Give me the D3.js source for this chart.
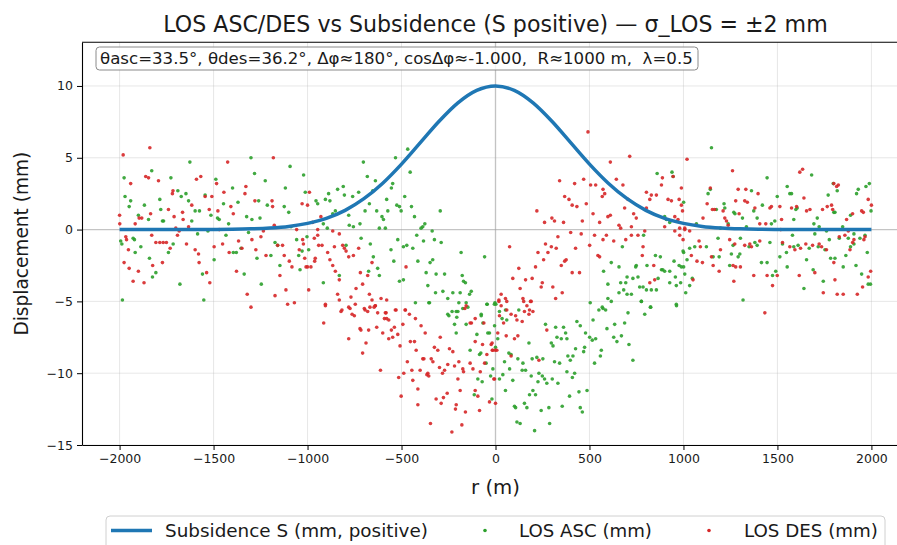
<!DOCTYPE html>
<html><head><meta charset="utf-8">
<title>LOS ASC/DES vs Subsidence</title>
<script src="https://cdn.jsdelivr.net/npm/d3@7"></script>
<style>
  body { margin: 0; background: #fff; }
  text { font-family: "DejaVu Sans", sans-serif; fill: #1a1a1a; white-space: pre; }
</style>
</head>
<body>
<svg id="chart" width="897" height="545"></svg>
<script>
// ---- data ----
const xTicks = [-2000, -1500, -1000, -500, 0, 500, 1000, 1500, 2000];
const yTicks = [-15, -10, -5, 0, 5, 10];

// subsidence curve S (mm), sampled every 100 m
const subR = [-2000,-1900,-1800,-1700,-1600,-1500,-1400,-1300,-1200,-1100,-1000,-900,-800,-700,-600,-500,-400,-300,-200,-100,0,
  100,200,300,400,500,600,700,800,900,1000,1100,1200,1300,1400,1500,1600,1700,1800,1900,2000];
const subS = [0,0,0,0,0,0.01,0.02,0.05,0.11,0.22,0.43,0.78,1.34,2.15,3.23,4.56,6.05,7.54,8.82,9.69,10,
  9.69,8.82,7.54,6.05,4.56,3.23,2.15,1.34,0.78,0.43,0.22,0.11,0.05,0.02,0.01,0,0,0,0,0];

// LOS ascending [r, mm]
const ascPts = [
[-1976,3.6],[-1971,2.3],[-1985,-4.9],[-1941,2.0],[-1949,1.6],[-1988,-1.0],[-1994,-0.8],[-1928,-0.6],[-1921,-0.7],[-1917,-1.6],
[-1900,1.0],[-1887,-1.2],[-1868,1.7],[-1846,0.7],[-1841,-2.0],[-1829,4.1],[-1807,-3.0],[-1825,-3.3],[-1786,2.1],[-1781,1.4],
[-1772,0.6],[-1766,0.6],[-1740,-1.6],[-1727,3.6],[-1715,-1.0],[-1690,2.7],[-1679,-3.8],[-1672,2.3],[-1647,2.5],[-1633,2.0],
[-1626,4.7],[-1616,0.6],[-1598,1.3],[-1585,-0.3],[-1575,1.3],[-1559,-3.1],[-1552,-4.9],[-1545,2.4],[-1530,-0.1],[-1514,1.0],
[-1497,-2.1],[-1488,3.5],[-1479,0.8],[-1470,0.7],[-1447,1.8],[-1434,-0.4],[-1420,0.4],[-1399,2.9],[-1395,-1.6],[-1379,-1.6],
[-1370,1.9],[-1354,-1.3],[-1337,-3.1],[-1324,0.9],[-1314,-0.2],[-1301,5.0],[-1296,0.7],[-1282,3.9],[-1269,-2.0],[-1260,2.0],
[-1253,0.8],[-1246,-3.8],[-1225,3.4],[-1214,1.7],[-1195,-1.8],[-1173,-0.9],[-1159,-1.1],[-1147,-2.5],[-1124,1.6],[-1118,2.9],
[-1100,1.2],[-1093,4.4],[-1088,0.2],[-1058,-0.7],[-1047,-1.8],[-1040,-2.8],[-1029,-1.5],[-1021,3.8],[-1012,2.6],[-1003,-0.5],[-994,-1.4],
[-955,2.0],[-946,1.8],[-905,2.1],[-888,2.5],[-881,2.0],[-916,0.4],[-895,0.1],[-866,1.1],[-852,1.3],[-840,2.8],
[-810,3.0],[-804,2.4],[-781,1.0],[-778,0.3],[-756,0.2],[-760,2.3],[-728,2.6],[-721,0.4],[-703,4.7],[-694,1.3],
[-682,3.7],[-671,1.8],[-653,2.7],[-639,3.4],[-632,1.3],[-618,0.1],[-604,0.9],[-596,0.7],[-586,0.1],[-579,2.1],
[-573,1.3],[-554,2.9],[-547,3.2],[-532,5.0],[-525,1.7],[-511,1.6],[-502,1.3],[-483,2.3],[-467,5.6],[-454,4.0],
[-447,1.6],[-431,0.9],[-419,-0.4],[-396,0.1],[-387,0.2],[-376,0.4],[-337,-0.1],[-383,-0.8],[-294,1.3],[-325,-0.7],
[-289,-0.9],[-520,-0.7],[-472,-1.1],[-440,-1.3],[-490,-1.2],[-413,-2.2],[-369,-3.0],[-348,-2.3],[-334,-2.1],[-316,-3.1],
[-271,-3.1],[-360,-3.9],[-319,-4.4],[-280,-4.3],[-254,-4.8],[-227,-4.4],[-188,-4.4],[-177,-3.2],[-170,-3.6],[-160,-3.7],
[-129,-4.3],[-138,-4.5],[-58,-1.9],[-183,-1.6],[-511,-3.6],[-490,-3.5],[-556,-1.4],[-541,-2.2],[-715,-0.6],[-666,-1.0],
[-650,-1.9],[-627,-2.7],[-618,-3.2],[-675,-2.9],[-831,-3.2],[-795,-1.1],[-916,-3.7],[-426,-5.1],[-351,-5.1],[-254,-5.9],
[-209,-5.7],[-156,-5.1],[-76,-5.9],[-46,-5.2],[-3,-5.1],
[-355,-5.1],[-195,-5.1],[-147,-5.4],[-248,-6.0],[-231,-5.7],[-200,-5.7],[-206,-6.1],[-174,-5.5],[-76,-6.0],[-44,-5.2],
[-6,-5.2],[-218,-6.6],[-209,-7.2],[-156,-6.6],[-67,-6.5],[-5,-6.7],[-99,-7.3],[-41,-7.2],[-135,-8.4],[-85,-8.7],
[-78,-8.6],[0,-8.2],[-50,-9.3],[-14,-9.7],[-94,-10.4],[-26,-10.2],[-71,-10.6],[-113,-11.5],[-19,-11.8],
[504,-5.1],[550,-5.6],[568,-5.4],[586,-5.6],[705,-5.8],[794,-5.9],[826,-5.4],[963,-5.3],[776,-5.0],[2,-5.2],
[21,-5.7],[53,-5.6],[124,-5.6],[35,-6.2],[60,-6.3],[12,-7.6],[-32,-7.2],[266,-6.6],[320,-6.8],[362,-6.8],
[433,-6.4],[451,-6.7],[519,-6.3],[593,-6.9],[634,-6.6],[687,-6.5],[327,-7.5],[350,-7.6],[373,-7.2],[380,-7.6],
[479,-7.2],[501,-7.5],[533,-7.6],[515,-7.7],[629,-7.5],[670,-7.4],[646,-7.8],[710,-8.0],[297,-7.9],[306,-8.1],
[178,-7.9],[71,-8.6],[83,-8.7],[119,-9.0],[48,-9.2],[146,-9.3],[195,-9.0],[220,-8.9],[252,-9.0],[426,-8.3],
[474,-8.2],[469,-8.5],[385,-8.8],[412,-8.8],[398,-9.1],[563,-8.4],[558,-8.8],[527,-9.3],[731,-9.1],[314,-9.2],
[341,-9.3],[142,-9.8],[160,-9.8],[75,-9.7],[39,-10.1],[21,-10.4],[190,-10.2],[231,-10.0],[249,-10.2],[261,-10.4],
[302,-10.4],[380,-9.9],[421,-10.0],[409,-10.3],[226,-10.6],[273,-10.7],[332,-10.7],[92,-10.5],[53,-11.2],[199,-11.2],
[213,-11.5],[181,-11.5],[394,-11.6],[444,-11.3],[487,-11.2],[154,-12.1],[167,-12.4],[101,-12.3],[107,-12.4],[243,-12.6],
[284,-12.4],[355,-12.3],[451,-12.4],[462,-12.7],[114,-13.4],[131,-13.5],[288,-13.5],[208,-14.0],
[860,3.9],[939,4.0],[945,3.7],[900,0.9],[909,0.7],[927,0.5],[788,-0.4],[675,-1.2],[851,-1.8],[877,-1.9],
[950,-2.2],[998,-1.5],[616,-2.3],[657,-2.6],[749,-2.5],[806,-2.5],[883,-2.8],[890,-2.8],[900,-2.9],[927,-2.9],
[977,-2.5],[989,-2.6],[1007,-3.1],[575,-2.9],[746,-2.6],[700,-3.3],[731,-3.4],[758,-3.3],[598,-3.8],[666,-3.7],
[693,-3.7],[767,-4.0],[785,-4.0],[865,-3.4],[927,-3.7],[957,-3.3],[985,-3.7],[657,-4.4],[682,-4.2],[700,-4.5],
[723,-4.5],[803,-4.2],[829,-4.2],[856,-4.2],[962,-3.9],[598,-4.8],[616,-5.0],[776,-5.0],[824,-5.4],[962,-5.2],[572,-5.5],
[1149,5.7],[1001,1.9],[1131,2.5],[1143,2.8],[1175,1.4],[1216,1.8],[1220,1.5],[1268,1.2],[1274,1.1],[1314,0.8],
[1362,2.7],[1374,1.3],[1392,0.8],[1420,1.7],[1445,3.6],[1468,0.4],[1486,0.6],[1499,2.3],[1552,3.0],[1566,2.5],
[1575,2.5],[1587,0.7],[1598,1.4],[1605,1.5],[1682,3.8],[1694,0.4],[1712,0.8],[1722,0.2],[1761,-0.1],[1770,2.4],
[1800,1.2],[1806,1.2],[1818,2.7],[1797,3.2],[1847,0.2],[1889,1.0],[1907,-0.3],[1921,2.5],[1930,2.8],[1971,3.0],
[1989,3.2],[1998,1.3],[1069,0.4],[1060,-1.2],[1033,-1.3],[1001,-1.6],[1001,-2.6],[1019,-2.1],[1033,-3.9],[1012,-4.4],
[1047,-3.4],[1122,-1.2],[1158,-1.9],[1190,-1.9],[1184,-0.6],[1246,-2.5],[1255,-1.7],[1264,-1.1],[1291,-1.9],[1300,-1.7],
[1317,-4.9],[1349,-1.2],[1380,-0.9],[1392,-1.1],[1415,-2.3],[1445,-2.3],[1460,-0.9],[1474,-3.2],[1491,-2.9],[1513,-1.9],
[1527,-1.0],[1548,-1.6],[1552,-2.6],[1580,-0.4],[1587,-1.2],[1610,-1.1],[1641,-4.1],[1655,-2.1],[1669,-1.3],[1690,-2.8],
[1699,-0.3],[1717,-1.2],[1744,-3.6],[1753,-1.4],[1776,-0.7],[1783,-2.0],[1806,-2.0],[1829,-0.6],[1850,-2.6],[1864,-1.8],
[1877,-0.6],[1889,-1.2],[1907,-1.0],[1918,-2.5],[1939,-0.6],[1948,-3.1],[1966,-0.4],[1978,-1.6],[1983,-3.8],[1995,-3.8],
[1303,-0.6],[1335,0.2],[1238,0.4],[1197,0.1]
];

// LOS descending [r, mm]
const desPts = [
[-1981,5.2],[-2000,1.0],[-1999,0.4],[-1967,-0.5],[-1963,-0.7],[-1953,-1.4],[-1976,-2.3],[-1949,-2.7],[-1928,-3.6],[-1941,3.2],
[-1917,0.4],[-1896,0.8],[-1882,0.8],[-1900,-2.9],[-1870,-3.7],[-1861,3.7],[-1846,3.6],[-1839,5.7],[-1835,1.1],[-1829,-0.4],
[-1824,-2.5],[-1807,-0.9],[-1793,3.4],[-1786,-0.9],[-1772,-2.3],[-1768,-0.9],[-1751,-0.9],[-1740,1.4],[-1731,-1.3],[-1719,2.5],
[-1716,2.7],[-1710,0.9],[-1701,0.1],[-1692,-0.4],[-1683,-0.1],[-1665,1.2],[-1662,0.7],[-1644,-1.0],[-1633,0.2],[-1616,1.7],
[-1598,-1.4],[-1591,3.5],[-1580,-1.7],[-1568,3.7],[-1577,-2.3],[-1545,2.3],[-1537,-3.0],[-1523,1.4],[-1520,-3.7],[-1509,2.3],
[-1497,-1.2],[-1484,3.2],[-1477,1.3],[-1470,0.0],[-1452,-1.0],[-1445,2.6],[-1425,4.7],[-1417,-1.6],[-1408,1.6],[-1395,1.1],
[-1378,-2.9],[-1367,-0.8],[-1349,-1.3],[-1333,2.5],[-1328,3.0],[-1321,-4.5],[-1301,-5.4],[-1296,-0.7],[-1280,2.0],[-1275,-1.4],
[-1248,-0.5],[-1235,-0.1],[-1221,-1.8],[-1189,2.0],[-1186,1.6],[-1182,5.0],[-1177,0.3],[-1173,-4.6],[-1159,-1.1],[-1147,-3.2],
[-1133,-1.1],[-1124,-1.8],[-1115,-4.2],[-1106,-5.2],[-1097,-2.2],[-1083,-2.6],[-1070,-5.1],[-1058,0.0],[-1044,-1.4],[-1029,1.8],
[-1022,-1.0],[-1008,-2.6],[-994,-4.2],
[-1000,1.7],[-990,2.6],[-973,0.5],[-929,0.9],[-964,-0.6],[-1026,-0.7],[-1015,-2.0],[-982,-2.6],[-946,-0.4],[-923,-1.1],
[-866,-0.1],[-857,-1.2],[-831,-0.3],[-813,-1.1],[-804,-1.3],[-795,-1.5],[-781,-1.9],[-756,-1.8],[-728,-1.3],[-893,-1.6],
[-881,-2.1],[-959,-2.0],[-962,-2.2],[-1000,-2.6],[-866,-2.5],[-852,-2.9],[-831,-3.5],[-657,-2.3],[-680,-3.2],[-719,-3.0],
[-707,-3.8],[-742,-4.1],[-840,-4.5],[-831,-4.9],[-769,-4.7],[-746,-5.2],[-781,-5.4],[-671,-4.5],[-657,-4.9],[-639,-5.3],
[-609,-4.8],[-579,-4.9],[-905,-5.2],[-817,-5.6],[-763,-5.9],[-698,-5.5],[-627,-5.8],[-582,-5.8],[-529,-5.6],[-479,-5.6],
[-458,-5.9],[-668,-5.4],[-476,-2.6],[-941,-1.1],[-946,0.0],
[-905,-5.3],[-822,-5.7],[-774,-5.5],[-751,-6.0],[-694,-5.6],[-680,-5.7],[-646,-5.4],[-640,-5.3],[-586,-5.8],[-591,-6.2],
[-568,-6.3],[-533,-5.6],[-481,-5.6],[-426,-6.2],[-914,-6.5],[-781,-7.6],[-721,-6.9],[-716,-7.0],[-675,-7.0],[-632,-6.8],
[-600,-7.2],[-579,-6.2],[-554,-7.0],[-538,-6.8],[-520,-7.3],[-568,-7.6],[-547,-7.5],[-493,-6.6],[-396,-6.7],[-374,-7.2],
[-689,-7.9],[-707,-8.6],[-508,-8.1],[-453,-7.8],[-431,-7.8],[-422,-8.4],[-325,-8.2],[-307,-8.4],[-294,-7.5],[-245,-8.3],
[-227,-8.5],[-387,-9.0],[-381,-9.0],[-342,-9.0],[-333,-9.2],[-469,-9.2],[-254,-9.4],[-195,-9.2],[-135,-9.3],[-218,-9.5],
[-298,-9.6],[-271,-9.8],[-174,-9.7],[-170,-9.9],[-120,-9.7],[-81,-9.9],[-401,-9.8],[-445,-9.8],[-360,-10.0],[-355,-10.2],
[-365,-10.1],[-282,-10.0],[-200,-10.4],[-58,-9.3],[-46,-8.7],[-69,-8.0],[-108,-7.8],[-23,-8.0],[-17,-8.4],[-1,-8.4],
[-128,-6.5],[-135,-6.5],[-62,-6.5],[-108,-6.2],[-156,-5.3],[-163,-5.5],[-612,-9.8],[-515,-10.3],[-488,-10.0],[-440,-10.5],
[-413,-11.1],[-502,-11.6],[-413,-12.2],[-316,-11.8],[-289,-12.1],[-277,-11.7],[-257,-11.4],[-213,-12.5],[-209,-12.2],[-188,-11.2],
[-160,-12.7],[-108,-11.2],[-94,-11.6],[-85,-12.6],[-32,-12.0],[-9,-10.4],[-346,-13.5],[-232,-14.1],[-179,-13.6],
[18,-5.0],[60,-5.0],[150,-5.0],[190,-5.0],[167,-5.3],[181,-5.6],[199,-5.7],[154,-5.7],[178,-5.9],[30,-5.3],
[60,-5.6],[83,-5.9],[107,-6.0],[43,-6.5],[114,-6.3],[142,-6.4],[21,-6.0],[273,-7.0],[57,-7.4],[119,-7.4],
[101,-7.6],[12,-7.2],[-18,-7.9],[-14,-8.4],[7,-8.4],[83,-8.8],[231,-9.1],[-5,-10.4],[0,-12.1],
[492,6.8],[714,5.1],[611,4.7],[1019,4.9],[341,3.4],[421,3.2],[469,3.5],[506,3.1],[533,3.1],[643,3.5],
[678,3.1],[572,2.8],[581,2.5],[568,2.3],[705,2.1],[803,2.6],[829,2.4],[856,2.4],[883,3.1],[888,3.6],
[945,3.7],[989,2.9],[918,2.1],[936,2.0],[977,2.1],[989,1.7],[821,2.1],[391,2.1],[408,1.7],[433,1.6],
[483,1.8],[368,2.3],[220,1.3],[300,0.8],[261,0.5],[314,0.6],[362,0.5],[462,0.6],[519,1.1],[554,0.5],
[598,0.9],[611,1.0],[687,1.5],[735,1.1],[749,0.8],[723,0.2],[657,0.3],[666,0.1],[803,1.5],[954,0.9],
[971,0.7],[995,1.3],[900,0.2],[954,-0.1],[980,-0.4],[1007,0.1],[400,-0.2],[456,-0.3],[527,-0.4],[590,-0.4],
[629,-0.8],[693,-0.7],[723,-0.4],[758,-0.4],[794,-0.1],[332,-0.5],[75,-1.2],[266,-1.0],[297,-1.2],[323,-1.3],
[501,-1.1],[572,-0.7],[545,-1.8],[554,-1.9],[279,-1.6],[226,-1.6],[426,-1.3],[785,-1.2],[781,-1.8],[842,-2.5],
[376,-2.1],[368,-2.2],[350,-2.5],[256,-2.1],[124,-2.7],[213,-2.6],[92,-3.4],[160,-3.5],[195,-3.4],[249,-3.7],
[408,-3.0],[447,-3.0],[243,-4.0],[305,-4.0],[131,-4.1],[821,-3.7],[847,-3.5],[355,-4.4],[30,-4.5],[18,-4.9],
[53,-4.8],[146,-4.8],[186,-5.0],[320,-4.8],
[1261,4.1],[1143,2.9],[1154,1.4],[1166,1.4],[1126,1.8],[1211,1.3],[1220,0.8],[1229,0.6],[1238,0.3],[1278,2.0],
[1291,2.8],[1296,1.1],[1326,2.0],[1332,2.8],[1340,1.9],[1380,1.5],[1397,2.5],[1406,0.4],[1438,0.4],[1460,1.5],
[1468,1.6],[1513,1.6],[1522,0.7],[1575,1.5],[1602,1.6],[1619,4.0],[1634,4.2],[1641,2.2],[1655,1.3],[1673,1.4],
[1740,1.4],[1765,1.6],[1788,1.7],[1794,1.4],[1800,3.2],[1824,3.1],[1815,3.0],[1868,0.7],[1900,1.1],[1948,1.3],
[1957,1.2],[1983,2.1],[2000,1.7],[980,0.1],[1007,0.0],[1033,-0.1],[1065,0.3],[1104,0.8],[998,-0.7],[1083,-0.8],
[1090,-1.2],[1101,-2.3],[1042,-1.8],[1072,-2.2],[1051,-3.5],[1149,-1.9],[1158,-2.5],[1190,-2.9],[1197,-1.4],[1246,-0.7],
[1273,-1.0],[1278,-2.6],[1303,-2.6],[1326,-1.1],[1353,-1.0],[1362,-1.2],[1374,-3.2],[1406,-0.8],[1445,-3.2],[1474,-3.9],
[1499,-3.2],[1518,0.0],[1527,-0.9],[1566,-1.2],[1593,-1.4],[1616,-3.2],[1623,-1.3],[1651,-1.0],[1687,-1.1],[1699,-3.0],
[1722,-1.0],[1735,-1.2],[1744,-4.4],[1761,-1.4],[1800,-2.3],[1806,-3.5],[1829,-0.5],[1818,-4.5],[1850,-4.5],[1859,-0.4],
[1877,-0.1],[1886,-1.4],[1900,-0.9],[1907,-0.7],[1925,-4.5],[1953,-4.0],[1966,-0.5],[1983,-3.3],[1996,-2.9],[1960,-0.7],
[1268,-3.6],[1433,-5.8],[1264,-2.5]
];

const titleText = "LOS ASC/DES vs Subsidence (S positive) — σ_LOS = ±2 mm";
const infoText = "θasc=33.5°, θdes=36.2°, Δφ≈180°, cosΔφ≈-1.000,  R≈1000 m,  λ=0.5";
const legendLabels = ["Subsidence S (mm, positive)", "LOS ASC (mm)", "LOS DES (mm)"];

// ---- drawing ----
const svg = d3.select("#chart");
const plotL = 82, plotR = 909, plotT = 42.3, plotB = 445;

const x = d3.scaleLinear().domain([-2200, 2200]).range([plotL, plotR]);
const y = d3.scaleLinear().domain([-15, 13.04]).range([plotB, plotT]);

// shrink/grow a text so its width matches what the reference shows
function fitText(sel, width) {
  const len = sel.node().getComputedTextLength();
  const fs = parseFloat(sel.attr("font-size"));
  sel.attr("font-size", fs * width / len);
}

svg.append("defs").append("clipPath").attr("id", "plotclip")
  .append("rect").attr("x", plotL).attr("y", plotT)
  .attr("width", plotR - plotL).attr("height", plotB - plotT);

// grid
const grid = svg.append("g");
grid.selectAll("line.gx").data(xTicks).join("line")
  .attr("x1", d => x(d)).attr("x2", d => x(d))
  .attr("y1", plotT).attr("y2", plotB)
  .attr("stroke", "#b0b0b0").attr("stroke-opacity", 0.35).attr("stroke-width", 0.9);
grid.selectAll("line.gy").data(yTicks).join("line")
  .attr("x1", plotL).attr("x2", plotR)
  .attr("y1", d => y(d)).attr("y2", d => y(d))
  .attr("stroke", "#b0b0b0").attr("stroke-opacity", 0.35).attr("stroke-width", 0.9);

// zero lines
grid.append("line").attr("x1", plotL).attr("x2", plotR).attr("y1", y(0)).attr("y2", y(0))
  .attr("stroke", "#a0a0a0").attr("stroke-opacity", 0.5).attr("stroke-width", 1.4);
grid.append("line").attr("x1", x(0)).attr("x2", x(0)).attr("y1", plotT).attr("y2", plotB)
  .attr("stroke", "#a0a0a0").attr("stroke-opacity", 0.5).attr("stroke-width", 1.4);

const plot = svg.append("g").attr("clip-path", "url(#plotclip)");

plot.append("g").selectAll("circle").data(ascPts).join("circle")
  .attr("cx", d => x(d[0])).attr("cy", d => y(d[1])).attr("r", 1.8)
  .attr("fill", "#2ca02c").attr("fill-opacity", 0.9);

plot.append("g").selectAll("circle").data(desPts).join("circle")
  .attr("cx", d => x(d[0])).attr("cy", d => y(d[1])).attr("r", 1.8)
  .attr("fill", "#d62728").attr("fill-opacity", 0.9);

const line = d3.line().x((d, i) => x(subR[i])).y(d => y(d)).curve(d3.curveMonotoneX);
plot.append("path").datum(subS)
  .attr("d", line).attr("fill", "none")
  .attr("stroke", "#1f77b4").attr("stroke-width", 3.5).attr("stroke-linejoin", "round");

// axes
const fmt = d3.format("d");
const xAxis = svg.append("g").attr("transform", "translate(0," + plotB + ")")
  .call(d3.axisBottom(x).tickValues(xTicks).tickFormat(fmt).tickSize(5).tickSizeOuter(0).tickPadding(4));
const yAxis = svg.append("g").attr("transform", "translate(" + plotL + ",0)")
  .call(d3.axisLeft(y).tickValues(yTicks).tickFormat(fmt).tickSize(5).tickSizeOuter(0).tickPadding(4));
[xAxis, yAxis].forEach(a => {
  a.selectAll("text").attr("font-size", 12.5).attr("font-family", "DejaVu Sans").attr("fill", "#1a1a1a");
  a.select(".domain").attr("stroke", "#000").attr("stroke-width", 1.1);
  a.selectAll(".tick line").attr("stroke", "#000").attr("stroke-width", 1);
});
svg.append("line").attr("x1", plotL).attr("x2", plotR).attr("y1", plotT).attr("y2", plotT)
  .attr("stroke", "#000").attr("stroke-width", 1.1);

// axis labels
const xl = svg.append("text").attr("x", 495.5).attr("y", 494).attr("text-anchor", "middle")
  .attr("font-size", 16).text("r (m)");
fitText(xl, 49);
const yl = svg.append("text").attr("transform", "translate(28," + ((plotT + plotB) / 2) + ") rotate(-90)")
  .attr("text-anchor", "middle").attr("font-size", 16).text("Displacement (mm)");
fitText(yl, 184);

// title
const tt = svg.append("text").attr("x", 495.5).attr("y", 32).attr("text-anchor", "middle")
  .attr("font-size", 18).text(titleText);
fitText(tt, 665);

// parameter box
const info = svg.append("g");
const infoRect = info.append("rect");
const it = info.append("text").attr("x", 100).attr("y", 63.5).attr("font-size", 14)
  .attr("xml:space", "preserve").text(infoText);
fitText(it, 593);
infoRect.attr("x", 96).attr("y", 47).attr("width", 602).attr("height", 23).attr("rx", 3.5)
  .attr("fill", "#fff").attr("fill-opacity", 0.8).attr("stroke", "#8a8a8a").attr("stroke-width", 1);

// legend
const leg = svg.append("g");
leg.append("rect").attr("x", 106).attr("y", 516).attr("width", 779).attr("height", 45).attr("rx", 4)
  .attr("fill", "#fff").attr("stroke", "#d0d0d0").attr("stroke-width", 1);
leg.append("line").attr("x1", 111).attr("x2", 152).attr("y1", 530.5).attr("y2", 530.5)
  .attr("stroke", "#1f77b4").attr("stroke-width", 3.5);
leg.append("circle").attr("cx", 485).attr("cy", 530.5).attr("r", 1.8).attr("fill", "#2ca02c");
leg.append("circle").attr("cx", 709).attr("cy", 530.5).attr("r", 1.8).attr("fill", "#d62728");
const legX = [165, 519, 744], legW = [263, 133, 134];
legendLabels.forEach((s, i) => {
  const t = leg.append("text").attr("x", legX[i]).attr("y", 536.5).attr("font-size", 16).text(s);
  fitText(t, legW[i]);
});
</script>
</body>
</html>
